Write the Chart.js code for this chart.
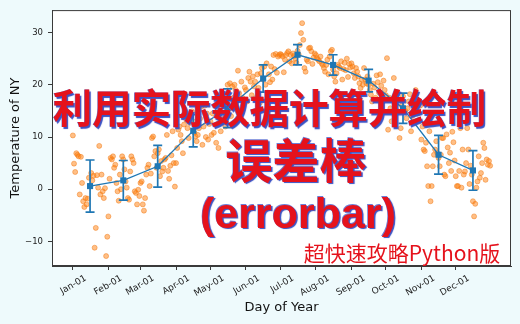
<!DOCTYPE html>
<html>
<head>
<meta charset="utf-8">
<script src="https://cdn.jsdelivr.net/npm/chart.js@4.4.1/dist/chart.umd.min.js"></script>
<style>
  html, body { margin: 0; padding: 0; background: #eefafc; }
  #wrap { position: relative; width: 520px; height: 324px; overflow: hidden; }
  #c { position: absolute; left: 0; top: 0; }
  .ov { position: absolute; white-space: nowrap; line-height: 1; transform: translate(-50%, -50%); color: #e5121c; }
  .big { font-family: "Noto Sans CJK SC", sans-serif; font-weight: 700; text-shadow: 1.5px 1.5px 0.8px #3c52c4, -0.6px -0.6px 0.6px #6d7fd6; }
  #t1 { left: 269.5px; top: 106px; font-size: 39.4px; }
  #t2 { left: 296px; top: 157px; font-size: 47px; }
  #t3 { left: 298px; top: 213px; font-size: 43px; font-family: "Liberation Sans", sans-serif; }
  #t4 { left: 402px; top: 252px; font-size: 21px; font-family: "Noto Sans CJK SC", sans-serif; font-weight: 400; }
</style>
</head>
<body>
<div id="wrap">
  <canvas id="c" width="520" height="324"></canvas>
  <div class="ov big" id="t1">利用实际数据计算并绘制</div>
  <div class="ov big" id="t2">误差棒</div>
  <div class="ov big" id="t3">(errorbar)</div>
  <div class="ov" id="t4">超快速攻略Python版</div>
</div>
<script>
// ---- data ----
const monthStarts = [0, 31, 59, 90, 120, 151, 181, 212, 243, 273, 304, 334];
const monthLabels = ['Jan-01','Feb-01','Mar-01','Apr-01','May-01','Jun-01','Jul-01','Aug-01','Sep-01','Oct-01','Nov-01','Dec-01'];
const monthCenters = [15, 44, 74, 105, 135, 166, 196, 227, 258, 288, 319, 349];
const monthMeans = [0.6, 1.7, 4.4, 11.2, 15.5, 21.2, 25.75, 23.8, 20.8, 15.5, 6.6, 3.6];
const monthStds  = [5.0, 3.8, 4.0, 3.1, 3.7, 2.6, 1.95, 1.95, 2.15, 2.9, 3.7, 3.8];
const yTicks = [-10, 0, 10, 20, 30];

const tempJan = [10.3, 4.9, 3.3, 6.9, 6.6, 6.3, -1.0, 6.2, 1.2, -2.3, -3.4, -1.7, -2.9, -1.8, 2.2, 0.6, 3.1, 1.7, 2.6, -11.2, -7.4, 2.7, 0.3, 8.3, -1.0, 2.8, -0.4, -1.7, 0.2, -12.8, -9.1];
const tempFeb = [-5.2, 2.0, 6.0, 5.7, 6.3, 4.1, 4.7, 1.2, -0.4, -2.2, 2.8, 0.0, 6.3, 5.7, 3.8, 1.5, 0.3, -1.7, -2.0, 3.4, 6.3, 5.7, 5.0, -0.4, -0.7, -2.9, -0.1, -1.3];
const tempMar = [1.2, 1.5, -2.9, -4.1, -1.7, 2.8, 4.1, 4.7, 0.6, 3.0, 9.8, 10.1, 6.3, 7.3, 4.1, 6.9, 7.6, 2.5, 5.4, 3.4, 4.1, 5.7, 6.0, 10.4, 3.5, 2.0, 4.5, 6.5, 11.1, 5.0, 0.5];
const tempApr = [5.0, 7.9, 11.4, 12.0, 10.4, 9.2, 6.9, 12.4, 14.3, 13.3, 11.7, 9.8, 12.7, 14.0, 14.9, 13.0, 10.8, 10.1, 9.2, 10.4, 11.7, 13.5, 15.8, 8.5, 12.0, 16.0, 10.0, 14.5, 9.5, 12.5];
const tempMay = [13.0, 10.4, 14.5, 10.8, 16.0, 8.9, 12.5, 7.9, 15.0, 11.1, 17.0, 13.5, 16.5, 12.0, 18.0, 20.0, 15.5, 20.3, 14.0, 19.7, 17.5, 20.0, 19.0, 16.8, 22.7, 18.4, 15.0, 20.6, 17.5, 13.0, 19.5];
const tempJun = [19.0, 16.8, 21.3, 22.5, 20.6, 18.0, 21.6, 19.7, 20.6, 17.5, 22.0, 19.4, 16.5, 22.2, 23.2, 21.0, 23.5, 20.0, 24.1, 18.5, 22.0, 20.5, 23.5, 21.0, 25.7, 23.0, 25.9, 22.3, 25.4, 25.7];
const tempJul = [25.9, 25.7, 25.4, 22.4, 24.8, 25.7, 26.1, 26.4, 24.5, 25.7, 24.1, 26.0, 25.5, 25.0, 24.2, 26.5, 25.8, 27.6, 29.9, 31.8, 28.6, 23.2, 22.5, 24.8, 24.5, 27.0, 27.1, 26.4, 24.0, 25.2, 26.0];
const tempAug = [25.7, 25.1, 24.8, 24.5, 25.4, 24.1, 23.8, 23.2, 22.5, 23.8, 24.8, 22.0, 25.4, 26.4, 26.7, 22.9, 21.6, 20.6, 22.2, 23.8, 23.5, 23.2, 24.5, 21.0, 23.0, 24.2, 22.8, 25.0, 21.5, 24.0, 23.3];
const tempSep = [24.1, 23.5, 22.2, 21.3, 23.2, 22.5, 21.6, 20.3, 19.4, 21.0, 20.0, 23.2, 21.0, 20.3, 21.6, 20.0, 19.0, 18.1, 16.8, 20.2, 19.5, 17.5, 21.8, 20.5, 18.5, 22.0, 19.8, 17.0, 20.8, 19.0];
const tempOct = [18.0, 25.1, 11.4, 17.5, 15.5, 13.0, 14.9, 21.3, 17.0, 16.2, 18.5, 14.9, 9.8, 11.7, 16.0, 17.8, 14.9, 15.0, 13.6, 15.5, 16.8, 18.2, 11.1, 14.0, 16.5, 17.2, 19.0, 15.8, 14.5, 13.0, 16.0];
const tempNov = [9.5, 12.0, 7.6, 7.3, 8.9, 4.4, 0.6, 11.1, -2.3, 0.6, 4.4, 6.6, 7.6, 9.2, 6.9, 6.0, 4.4, 6.6, 9.8, 9.8, 2.8, 2.5, 10.5, 8.0, 5.0, 7.0, 3.5, 11.0, 9.0, 5.5];
const tempDec = [2.5, 0.6, 0.6, 3.5, 11.7, 0.3, 7.6, 2.8, 3.4, 5.0, 11.7, 7.6, 1.0, 4.5, 2.8, -2.3, -5.2, -2.8, 0.3, 1.5, 6.3, 2.2, 3.1, 5.0, 8.9, 7.9, 1.8, 5.7, 4.7, 5.4, 4.5];

// ---- build tables for the library ----
const allMonths = [tempJan, tempFeb, tempMar, tempApr, tempMay, tempJun, tempJul, tempAug, tempSep, tempOct, tempNov, tempDec];
const dailyPoints = [];
allMonths.forEach((arr, m) => arr.forEach((v, d) => dailyPoints.push({ x: monthStarts[m] + d, y: v })));
const meanPoints = monthCenters.map((x, i) => ({ x: x, y: monthMeans[i] }));

const BLUE = '#1f77b4';
const AXIS = '#3a3a3a';

const plotBg = {
  id: 'plotBg',
  beforeDraw(chart) {
    const { ctx, chartArea: a } = chart;
    ctx.save();
    ctx.fillStyle = '#ffffff';
    ctx.fillRect(a.left, a.top, a.right - a.left, a.bottom - a.top);
    ctx.restore();
  },
  beforeDatasetDraw(chart, args) {
    if (args.index !== 0) return;
    const { ctx, scales: { x, y } } = chart;
    ctx.save();
    ctx.strokeStyle = BLUE;
    ctx.lineWidth = 1.7;
    monthCenters.forEach((c, i) => {
      const px = x.getPixelForValue(c);
      const top = y.getPixelForValue(monthMeans[i] + monthStds[i]);
      const bot = y.getPixelForValue(monthMeans[i] - monthStds[i]);
      ctx.beginPath();
      ctx.moveTo(px, top); ctx.lineTo(px, bot);
      ctx.moveTo(px - 4.5, top); ctx.lineTo(px + 4.5, top);
      ctx.moveTo(px - 4.5, bot); ctx.lineTo(px + 4.5, bot);
      ctx.stroke();
    });
    ctx.restore();
  },
  afterDatasetsDraw(chart) {
    const { ctx, chartArea: a } = chart;
    ctx.save();
    ctx.strokeStyle = AXIS;
    ctx.lineWidth = 1;
    ctx.strokeRect(a.left + 0.5, a.top + 0.5, a.right - a.left - 1, a.bottom - a.top - 1);
    ctx.restore();
  }
};

new Chart(document.getElementById('c'), {
  type: 'scatter',
  data: {
    datasets: [
      {
        type: 'line',
        data: meanPoints,
        order: 0,
        borderColor: BLUE,
        borderWidth: 1.3,
        backgroundColor: BLUE,
        pointStyle: 'rect',
        pointRadius: 4.3,
        pointBorderWidth: 0,
        tension: 0,
        fill: false
      },
      {
        data: dailyPoints,
        order: 1,
        pointRadius: 2.5,
        pointBorderWidth: 0.8,
        backgroundColor: 'rgba(255,127,14,0.5)',
        borderColor: 'rgba(240,120,20,0.6)'
      }
    ]
  },
  options: {
    responsive: false,
    animation: false,
    devicePixelRatio: 1,
    layout: { padding: { left: 0, right: 9, top: 9, bottom: 0 } },
    plugins: { legend: { display: false }, tooltip: { enabled: false } },
    scales: {
      x: {
        type: 'linear',
        min: -18.2,
        max: 382.2,
        afterBuildTicks: (s) => { s.ticks = monthStarts.map(v => ({ value: v })); },
        afterFit: (s) => { s.height = 58; },
        ticks: {
          callback: (v, i) => monthLabels[i],
          minRotation: 30,
          maxRotation: 30,
          autoSkip: false,
          labelOffset: 13,
          padding: 3,
          color: '#222',
          font: { family: 'DejaVu Sans', size: 9 }
        },
        grid: { drawOnChartArea: false, tickLength: 4, color: AXIS },
        border: { color: AXIS },
        title: {
          display: true,
          text: 'Day of Year',
          color: '#111',
          font: { family: 'DejaVu Sans', size: 13 },
          padding: { top: 2, bottom: 9 }
        }
      },
      y: {
        min: -14.7,
        max: 34.3,
        afterBuildTicks: (s) => { s.ticks = yTicks.map(v => ({ value: v })); },
        afterFit: (s) => { s.width = 52; },
        ticks: {
          callback: (v) => (v < 0 ? '\u2212' + Math.abs(v) : String(v)),
          padding: 5,
          color: '#222',
          font: { family: 'DejaVu Sans', size: 8.5 }
        },
        grid: { drawOnChartArea: false, tickLength: 4, color: AXIS },
        border: { color: AXIS },
        title: {
          display: true,
          text: 'Temperature of NY',
          color: '#111',
          font: { family: 'DejaVu Sans', size: 13 },
          padding: { top: 8, bottom: 4 }
        }
      }
    }
  },
  plugins: [plotBg]
});
</script>
</body>
</html>
